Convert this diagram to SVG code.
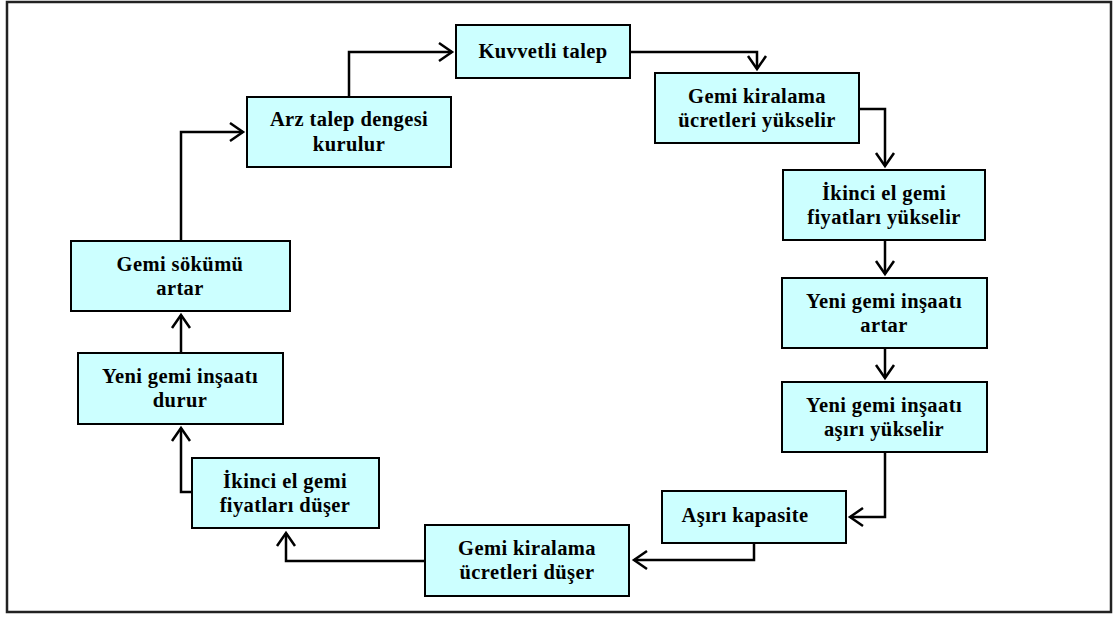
<svg xmlns="http://www.w3.org/2000/svg" width="1115" height="617" viewBox="0 0 1115 617">
<style>
.box{fill:#CCFFFF;stroke:#000;stroke-width:2}
.t{font-family:"Liberation Serif","Times New Roman",serif;font-weight:bold;font-size:20.5px;letter-spacing:0.4px;fill:#000;text-anchor:middle}
.c{fill:none;stroke:#000;stroke-width:2.5;marker-end:url(#ah)}
</style>
<defs>
<marker id="ah" viewBox="-16 -12 19 24" refX="0" refY="0" markerWidth="19" markerHeight="24" markerUnits="userSpaceOnUse" orient="auto">
<path d="M-13,-9 L0,0 L-13,9" fill="none" stroke="#000" stroke-width="2.5"/>
</marker>
</defs>
<rect width="1115" height="617" fill="#fff"/>
<rect x="7" y="2" width="1104" height="610" fill="none" stroke="#222" stroke-width="2.5"/>
<g id="connectors">
<path class="c" d="M181,241 V132 H243"/>
<path class="c" d="M349,97 V52 H452"/>
<path class="c" d="M630,52 H757 V69"/>
<path class="c" d="M859,109 H885 V166"/>
<path class="c" d="M885,240 V274"/>
<path class="c" d="M885,348 V378"/>
<path class="c" d="M885,452 V517 H850"/>
<path class="c" d="M754,543 V560 H634"/>
<path class="c" d="M425,561 H286 V533"/>
<path class="c" d="M192,492 H181 V428"/>
<path class="c" d="M181,353 V315"/>
</g>
<g id="n1"><rect class="box" x="456" y="25" width="174" height="53"/><text class="t" x="543" y="58">Kuvvetli talep</text></g>
<g id="n2"><rect class="box" x="247" y="97" width="204" height="70"/><text class="t" x="349" y="126">Arz talep dengesi</text><text class="t" x="349" y="151">kurulur</text></g>
<g id="n3"><rect class="box" x="655" y="73" width="204" height="70"/><text class="t" x="757" y="103">Gemi kiralama</text><text class="t" x="757" y="127">ücretleri yükselir</text></g>
<g id="n4"><rect class="box" x="783" y="170" width="202" height="70"/><text class="t" x="884" y="200">İkinci el gemi</text><text class="t" x="884" y="224">fiyatları yükselir</text></g>
<g id="n5"><rect class="box" x="782" y="278" width="205" height="70"/><text class="t" x="884" y="308">Yeni gemi inşaatı</text><text class="t" x="884" y="332">artar</text></g>
<g id="n6"><rect class="box" x="782" y="382" width="205" height="70"/><text class="t" x="884" y="412">Yeni gemi inşaatı</text><text class="t" x="884" y="436">aşırı yükselir</text></g>
<g id="n7"><rect class="box" x="662" y="491" width="184" height="52"/><text class="t" x="745" y="522">Aşırı kapasite</text></g>
<g id="n8"><rect class="box" x="425" y="525" width="204" height="71"/><text class="t" x="527" y="555">Gemi kiralama</text><text class="t" x="527" y="579">ücretleri düşer</text></g>
<g id="n9"><rect class="box" x="192" y="458" width="187" height="70"/><text class="t" x="285" y="488">İkinci el gemi</text><text class="t" x="285" y="512">fiyatları düşer</text></g>
<g id="n10"><rect class="box" x="78" y="353" width="205" height="71"/><text class="t" x="180" y="383">Yeni gemi inşaatı</text><text class="t" x="180" y="407">durur</text></g>
<g id="n11"><rect class="box" x="71" y="241" width="219" height="70"/><text class="t" x="180" y="271">Gemi sökümü</text><text class="t" x="180" y="295">artar</text></g>
</svg>
